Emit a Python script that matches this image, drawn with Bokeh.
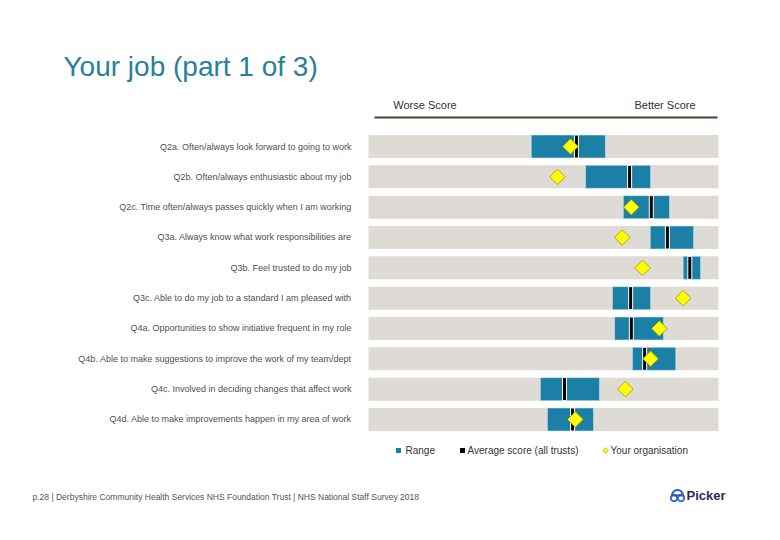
import math
from bokeh.plotting import figure
from bokeh.models import Range1d, ColumnDataSource
from bokeh.core.properties import value
from bokeh.embed import file_html
from bokeh.resources import INLINE

# ---------------- data ----------------
questions = [
    "Q2a. Often/always look forward to going to work",
    "Q2b. Often/always enthusiastic about my job",
    "Q2c. Time often/always passes quickly when I am working",
    "Q3a. Always know what work responsibilities are",
    "Q3b. Feel trusted to do my job",
    "Q3c. Able to do my job to a standard I am pleased with",
    "Q4a. Opportunities to show initiative frequent in my role",
    "Q4b. Able to make suggestions to improve the work of my team/dept",
    "Q4c. Involved in deciding changes that affect work",
    "Q4d. Able to make improvements happen in my area of work",
]
range_low = [46.5, 62.0, 72.8, 80.5, 89.9, 69.7, 70.3, 75.4, 49.1, 51.1]
range_high = [67.7, 80.6, 86.0, 92.9, 94.9, 80.6, 84.3, 87.8, 66.0, 64.3]
average = [59.4, 74.6, 80.8, 85.4, 91.8, 74.9, 75.1, 78.9, 56.0, 58.3]
your_org = [57.7, 54.0, 75.1, 72.5, 78.3, 89.9, 83.1, 80.6, 73.4, 59.1]
scale_min, scale_max = 0, 100

# ---------------- layout helpers ----------------
W, H = 764, 524
PX_PER_UNIT = 3.5
X0_PAGE = 368.0          # page x of value 0
ROW_PX = 30.33
Y0_PAGE = 146.0          # page y of first row centre


def X(page_x):
    return (page_x - X0_PAGE) / PX_PER_UNIT


def Y(page_y):
    return (page_y - Y0_PAGE) / ROW_PX


p = figure(width=W, height=H, output_backend="svg", toolbar_location=None,
           x_axis_location=None, y_axis_location=None,
           x_range=Range1d(X(0), X(W)), y_range=Range1d(Y(H), Y(0)),
           min_border=0, outline_line_color=None, background_fill_color="white",
           border_fill_color="white")
p.grid.visible = False

rows = list(range(len(questions)))
bar_h = 23 / ROW_PX

src = ColumnDataSource(dict(
    row=rows, q=questions, lo=range_low, hi=range_high, avg=average, org=your_org,
    smin=[scale_min] * len(rows), smax=[scale_max] * len(rows),
))

# background track
p.hbar(y="row", left="smin", right="smax", height=bar_h, source=src,
       fill_color="#DEDAD5", line_color=None)
# range
p.hbar(y="row", left="lo", right="hi", height=bar_h, source=src,
       fill_color="#1C7FA5", line_color="#CDEBF5", line_width=0.6)
# average
p.rect(x="avg", y="row", width=4, width_units="screen", height=bar_h, source=src,
       fill_color="black", line_color="white", line_width=1)
# your organisation
p.scatter(x="org", y="row", marker="square", size=11, angle=math.pi / 4, source=src,
          fill_color="#FFFF00", line_color="#9C9400", line_width=0.8)

# question labels
p.text(x=X(351), y="row", text="q", source=src, text_align="right",
       text_baseline="middle", text_font=value("Liberation Sans"),
       text_font_size="9px", text_color="#505050")

# scale line
p.line(x=[X(374), X(717)], y=[Y(117), Y(117)], line_color="#4A4535", line_width=2)

# headers
p.text(x=[X(424.5), X(664.5)], y=[Y(104), Y(104)], text=["Worse Score", "Better Score"],
       text_align="center", text_baseline="middle", text_font=value("Liberation Sans"),
       text_font_size="11px", text_color="#333333")

# title
p.text(x=[X(63)], y=[Y(66)], text=["Your job (part 1 of 3)"], text_align="left",
       text_baseline="middle", text_font=value("Liberation Sans"),
       text_font_size="28px", text_color="#28809A")

# legend
ly = Y(450)
p.scatter(x=[X(398)], y=[ly], marker="square", size=5, fill_color="#1C7FA5", line_color=None)
p.scatter(x=[X(462)], y=[ly], marker="square", size=5, fill_color="black", line_color=None)
p.scatter(x=[X(605)], y=[ly], marker="square", size=4, angle=math.pi / 4,
          fill_color="#FFFF00", line_color="#9C9400", line_width=0.6)
p.text(x=[X(405), X(467), X(610)], y=[ly] * 3,
       text=["Range", "Average score (all trusts)", "Your organisation"],
       text_align="left", text_baseline="middle", text_font=value("Liberation Sans"),
       text_font_size="10px", text_color="#333333")

# footer
p.text(x=[X(32)], y=[Y(496)],
       text=["p.28 | Derbyshire Community Health Services NHS Foundation Trust | NHS National Staff Survey 2018"],
       text_align="left", text_baseline="middle", text_font=value("Liberation Sans"),
       text_font_size="8.5px", text_color="#555555")

# Picker logo
p.circle(x=[X(673.5), X(680.5)], y=[Y(497.5), Y(497.5)], radius=3.2, radius_units="screen",
         fill_color=None, line_color="#3B6FD6", line_width=2)
p.wedge(x=[X(677)], y=[Y(495)], radius=5.5, radius_units="screen",
        start_angle=0, end_angle=math.pi, fill_color=None, line_color="#2E56B8", line_width=2)
p.text(x=[X(686)], y=[Y(495)], text=["Picker"], text_align="left", text_baseline="middle",
       text_font=value("Liberation Sans"), text_font_style="bold", text_font_size="13px",
       text_color="#2D2A5E")

open("out.html", "w").write(file_html(p, INLINE))
